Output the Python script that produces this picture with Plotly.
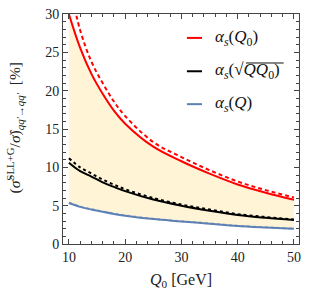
import plotly.graph_objects as go

q0 = [10, 12, 14, 16, 18, 20, 25, 30, 35, 40, 45, 50]
red_solid = [30.0, 25.6, 22.2, 19.6, 17.4, 15.7, 12.7, 10.8, 9.18, 7.77, 6.7, 5.78]
red_dashed = [34.3, 27.9, 23.8, 21.0, 18.6, 16.7, 13.3, 11.35, 9.64, 8.16, 7.03, 6.07]
blk_solid = [10.6, 9.5, 8.8, 8.05, 7.45, 6.9, 5.8, 5.0, 4.35, 3.8, 3.42, 3.12]
blk_dashed = [11.2, 10.0, 9.2, 8.4, 7.75, 7.15, 6.0, 5.15, 4.5, 3.9, 3.52, 3.2]
blu_solid = [5.35, 4.85, 4.5, 4.2, 3.93, 3.7, 3.25, 2.95, 2.65, 2.35, 2.15, 1.98]
blu_dashed = [5.4, 4.9, 4.54, 4.24, 3.97, 3.74, 3.29, 2.98, 2.68, 2.38, 2.18, 2.0]
x_ticks = [10, 20, 30, 40, 50]
y_ticks = [0, 5, 10, 15, 20, 25, 30]

RED = "#FF0000"
BLK = "#000000"
BLU = "#5E81B5"
FILL = "rgb(255,244,214)"
FONT = "Liberation Serif"

fig = go.Figure()
fig.add_trace(go.Scatter(x=q0, y=blu_solid, mode="lines", line=dict(width=0),
                         line_shape="spline", showlegend=False, hoverinfo="skip"))
fig.add_trace(go.Scatter(x=q0, y=red_solid, mode="lines", line=dict(width=0),
                         line_shape="spline", fill="tonexty", fillcolor=FILL,
                         showlegend=False, hoverinfo="skip"))

def line(y, color, dash=None, width=2):
    fig.add_trace(go.Scatter(x=q0, y=y, mode="lines", line_shape="spline",
                             line=dict(color=color, width=width, dash=dash),
                             showlegend=False))

line(blu_dashed, "#9DB4D6", "3px,3px", 2)
line(blu_solid, BLU)
line(blk_dashed, BLK, "3px,3px", 2)
line(blk_solid, BLK)
line(red_dashed, RED, "4px,3px", 2)
line(red_solid, RED)

axcommon = dict(showline=True, linecolor="#444", linewidth=1, mirror="allticks",
                ticks="inside", ticklen=5, tickcolor="#444", showgrid=False,
                zeroline=False, tickfont=dict(family=FONT, size=14, color="#222"))

fig.update_xaxes(range=[8.95, 50.9], tickvals=x_ticks,
                 minor=dict(dtick=2, tick0=10, ticks="inside", ticklen=3, tickcolor="#444"),
                 ticklabeloverflow="allow",
                 **axcommon)
fig.update_yaxes(range=[0, 30.02], tickvals=y_ticks,
                 minor=dict(dtick=1, tick0=0, ticks="inside", ticklen=3, tickcolor="#444"),
                 ticklabeloverflow="allow",
                 **axcommon)

# axis titles
fig.add_annotation(xref="paper", yref="paper", x=0.5, y=-0.159,
                   text="<i>Q</i><sub>0</sub> [GeV]", showarrow=False,
                   xanchor="center", yanchor="middle",
                   font=dict(family=FONT, size=16, color="#222"))
fig.add_annotation(xref="paper", yref="paper", x=-0.205, y=0.505, textangle=-90,
                   text="(<i>σ̂</i><sup>SLL+G</sup>/<i>σ̂</i>)<sub><i>qq′</i>→<i>qq′</i></sub>  [%]",
                   showarrow=False, xanchor="center", yanchor="middle",
                   font=dict(family=FONT, size=15.5, color="#222"))

leg = [(RED, "<i>α<sub>s</sub></i>(<i>Q</i><sub>0</sub>)", 0.896),
       (BLK, "<i>α<sub>s</sub></i>(√<i>QQ</i><sub>0</sub>)", 0.751),
       (BLU, "<i>α<sub>s</sub></i>(<i>Q</i>)", 0.608)]
for col, txt, yy in leg:
    fig.add_shape(type="line", xref="paper", yref="paper", x0=0.525, x1=0.589,
                  y0=yy, y1=yy, line=dict(color=col, width=2))
    fig.add_annotation(xref="paper", yref="paper", x=0.635, y=yy, text=txt,
                       showarrow=False, xanchor="left", yanchor="middle",
                       font=dict(family=FONT, size=17, color="#111"))
fig.add_shape(type="line", xref="paper", yref="paper", x0=0.775, x1=0.935,
              y0=0.787, y1=0.787, line=dict(color="#111", width=1))

fig.update_layout(width=309, height=296, margin=dict(l=63, r=10, t=7, b=52),
                  paper_bgcolor="white", plot_bgcolor="white",
                  font=dict(family=FONT))
fig.write_html("out.html", config={"displayModeBar": False},
               post_script="document.body.style.margin='0';document.body.style.padding='0';")
